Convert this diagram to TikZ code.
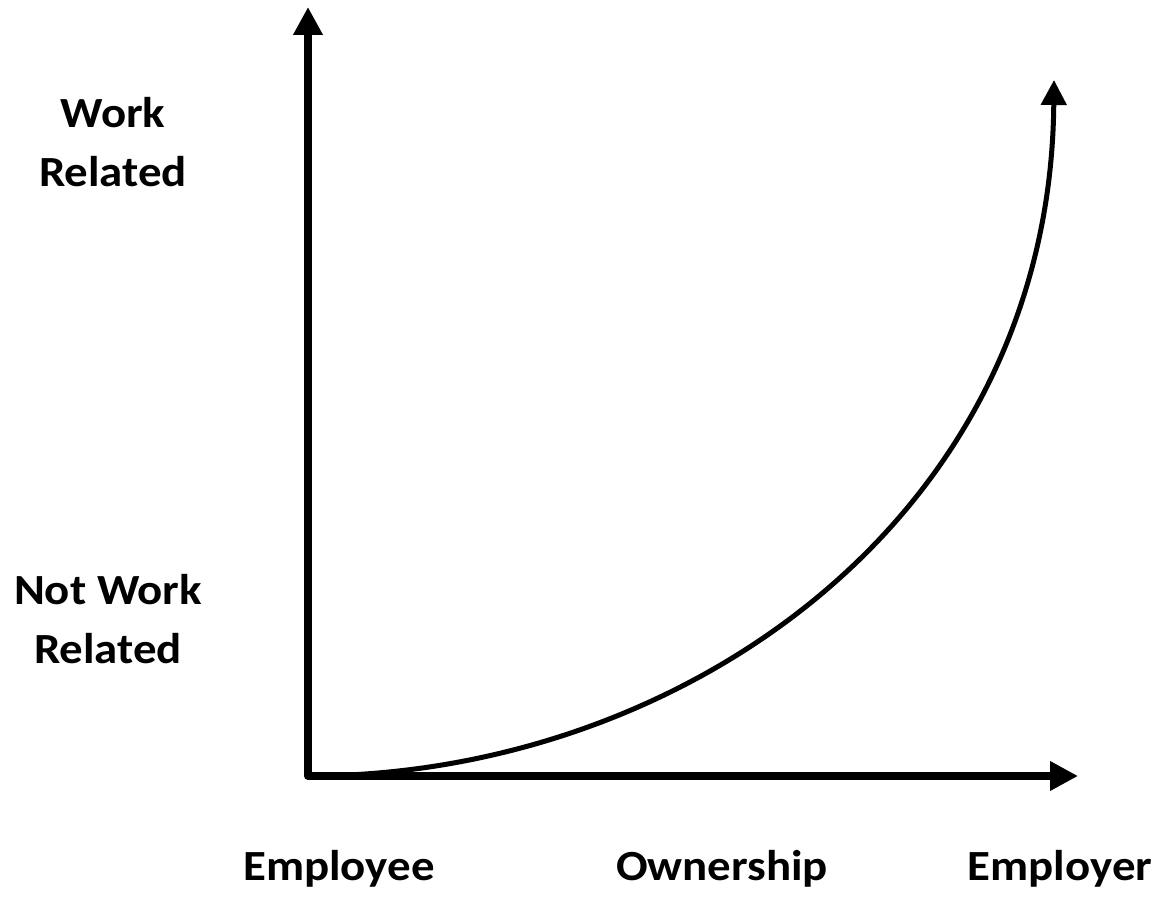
\documentclass[tikz,border=0pt]{standalone}
\usepackage{fontspec}
\setmainfont{Carlito}[FakeStretch=1.09]
\usetikzlibrary{arrows.meta}
\begin{document}
\begin{tikzpicture}[x=1pt,y=-1pt,
  axis/.style={line width=8pt,line join=round,{Triangle[length=28pt,width=28pt]}-{Triangle[length=28pt,width=28pt]}},
  curveline/.style={line width=5pt,-{Triangle[length=25pt,width=25pt]}},
  lbl/.style={font=\fontsize{43}{59}\selectfont\bfseries,align=center,inner sep=0pt,anchor=base}]
\useasboundingbox (0,0) rectangle (1163,904);
\coordinate (ytop) at (308,7);
\coordinate (origin) at (308,776);
\coordinate (xend) at (1078,776);
\coordinate (cend) at (1054,80);
\draw[axis] (ytop) -- (origin) -- (xend);
\draw[curveline] (origin) .. controls (680,776) and (1050,520) .. (cend);
\node[lbl] (wr) at (113,187) {Work\\Related};
\node[lbl] (nwr) at (108,663) {Not Work\\Related};
\node[lbl] (ee) at (339,880) {Employee};
\node[lbl] (own) at (722,880) {Ownership};
\node[lbl] (er) at (1060,880) {Employer};
\end{tikzpicture}
\end{document}
